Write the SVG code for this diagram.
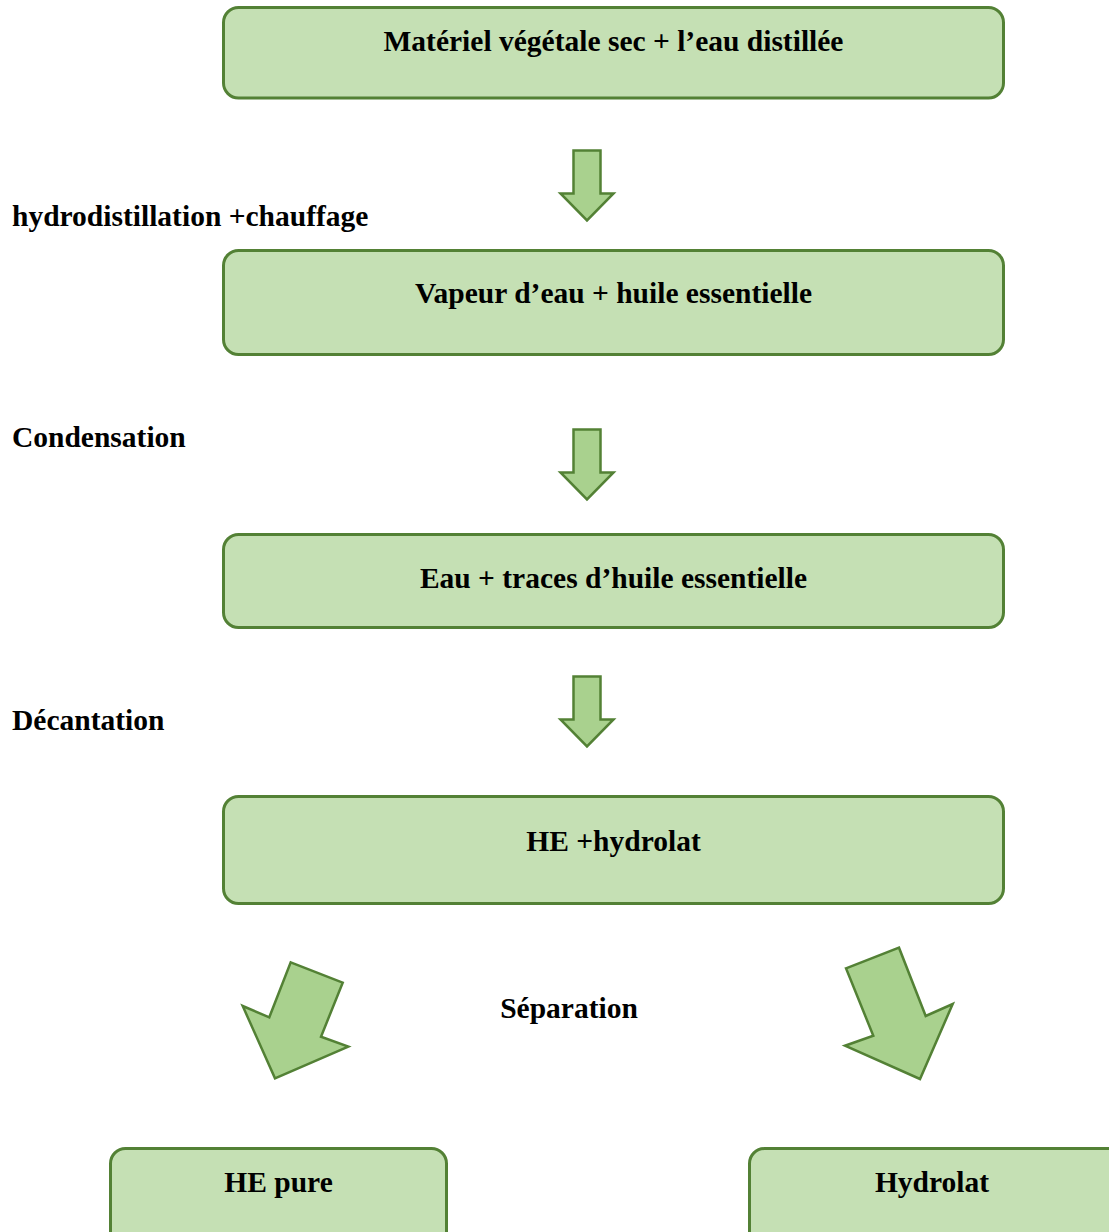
<svg xmlns="http://www.w3.org/2000/svg" width="1109" height="1232" viewBox="0 0 1109 1232">
<defs>
<style>
.box{fill:#C5E0B4;stroke:#538135;stroke-width:3}
.arr{fill:#A9D18E;stroke:#538135;stroke-width:2.5;stroke-linejoin:miter}
text{font-family:"Liberation Serif","Times New Roman",serif;font-weight:bold;font-size:29.5px;fill:#000}
.c{text-anchor:middle}
</style>
<polygon id="down" class="arr" points="0,0 27,0 27,43 40,43 13.5,70 -13,43 0,43"/>
</defs>
<rect width="1109" height="1232" fill="#fff"/>
<g id="n1"><rect class="box" x="223.5" y="7.5" width="780" height="90.5" rx="15"/><text class="c" x="613.5" y="51">Matériel végétale sec + l’eau distillée</text></g>
<g id="n2"><rect class="box" x="223.5" y="250.5" width="780" height="104" rx="15"/><text class="c" x="613.5" y="303">Vapeur d’eau + huile essentielle</text></g>
<g id="n3"><rect class="box" x="223.5" y="534.5" width="780" height="93" rx="15"/><text class="c" x="613.5" y="588">Eau + traces d’huile essentielle</text></g>
<g id="n4"><rect class="box" x="223.5" y="796.5" width="780" height="107" rx="15"/><text class="c" x="613.5" y="851">HE +hydrolat</text></g>
<g id="n5"><rect class="box" x="110.5" y="1148.5" width="336" height="110" rx="15"/><text class="c" x="278.5" y="1192">HE pure</text></g>
<g id="n6"><rect class="box" x="749.5" y="1148.5" width="380" height="110" rx="15"/><text class="c" x="932" y="1192">Hydrolat</text></g>
<g id="labels">
<text x="12" y="226">hydrodistillation +chauffage</text>
<text x="12" y="447">Condensation</text>
<text x="12" y="730">Décantation</text>
<text class="c" x="569" y="1018">Séparation</text>
</g>
<g id="connectors">
<use href="#down" x="573.5" y="150.5"/>
<use href="#down" x="573.5" y="429.5"/>
<use href="#down" x="573.5" y="676.5"/>
<polygon class="arr" points="290.7,962.3 342.7,982.7 321,1036.7 348.3,1046.7 275,1078.3 242.7,1006 269.3,1017.3"/>
<polygon class="arr" points="846,968.3 899,947.7 925.7,1016 952.7,1004 920,1079 845,1045.7 873.3,1035.7"/>
</g>
</svg>
